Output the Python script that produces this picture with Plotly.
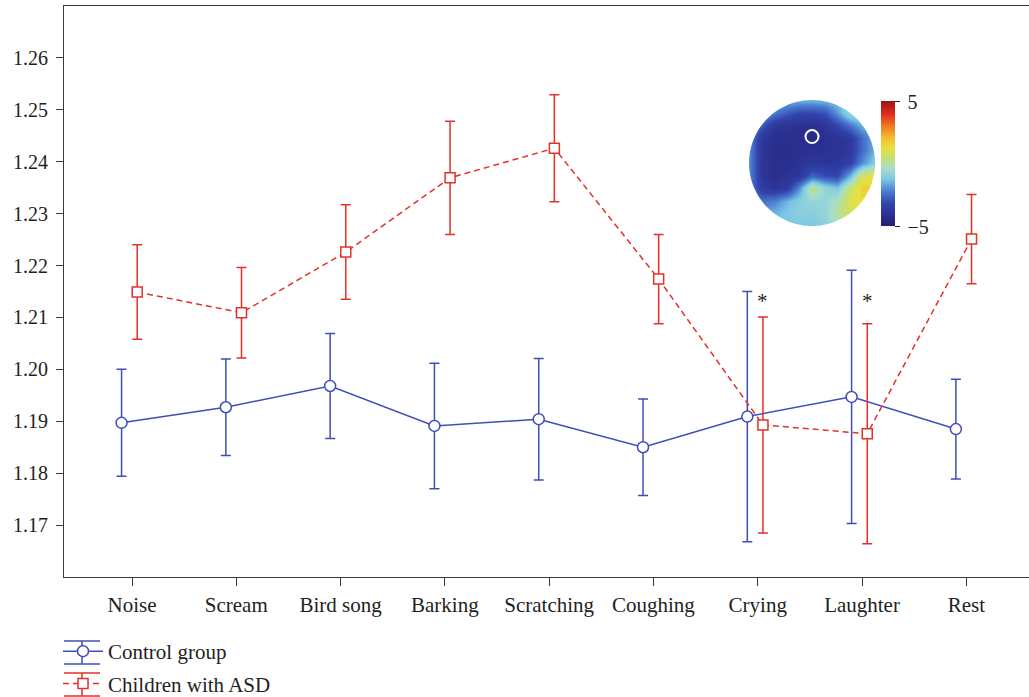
import numpy as np
import plotly.graph_objects as go

# ---------------- data ----------------
categories = ["Noise", "Scream", "Bird song", "Barking", "Scratching",
              "Coughing", "Crying", "Laughter", "Rest"]
control_mean = [1.1897, 1.1927, 1.1968, 1.1891, 1.1904, 1.1850, 1.1909, 1.1947, 1.1885]
control_err = [0.0103, 0.0093, 0.0101, 0.0121, 0.0117, 0.0093, 0.0241, 0.0244, 0.0096]
asd_mean = [1.2149, 1.2109, 1.2226, 1.2369, 1.2426, 1.2174, 1.1893, 1.1876, 1.2251]
asd_err = [0.0091, 0.0087, 0.0091, 0.0109, 0.0103, 0.0086, 0.0208, 0.0212, 0.0086]
significant = ["Crying", "Laughter"]
y_ticks = [1.17, 1.18, 1.19, 1.20, 1.21, 1.22, 1.23, 1.24, 1.25, 1.26]

# topographic map (t-values), rows bottom -> top, cols left -> right
topo_coords = [-1.0, -0.8, -0.6, -0.4, -0.2, 0.0, 0.2, 0.4, 0.6, 0.8, 1.0]
topo_values = [
    [-1.5, -1.5, -1.3, -1.2, -1.2, -1.2, -1.0, -0.5, 0.0, 0.0, -0.5],
    [-1.8, -1.8, -1.5, -1.2, -1.0, -1.0, -0.8, 0.0, 0.8, 0.8, 0.3],
    [-2.0, -2.4, -2.2, -1.5, -1.0, -0.8, -0.8, -0.3, 1.0, 1.3, 1.0],
    [-2.2, -3.6, -3.9, -3.6, -2.0, 0.3, -0.8, -1.2, 0.5, 1.6, 1.5],
    [-2.0, -3.9, -4.2, -4.0, -3.8, -2.6, -3.0, -3.2, -1.5, 0.8, 1.2],
    [-2.0, -3.9, -4.2, -4.2, -4.0, -3.8, -3.9, -3.8, -3.4, -2.0, -1.0],
    [-2.0, -3.9, -4.3, -4.3, -4.2, -4.1, -4.1, -4.0, -3.7, -2.5, -1.5],
    [-2.0, -3.8, -4.2, -4.2, -4.2, -4.4, -4.1, -4.0, -3.7, -2.5, -1.5],
    [-2.0, -2.8, -3.8, -4.0, -4.1, -4.1, -3.9, -3.2, -2.3, -1.5, -1.2],
    [-1.8, -1.8, -2.2, -2.8, -3.2, -3.2, -3.0, -1.9, -0.6, -0.5, -1.0],
    [-1.8, -1.8, -1.6, -1.5, -1.5, -1.5, -1.4, -1.2, -0.8, -0.8, -1.0],
]
electrode = [0.0, 0.42]
cbar_range = [-5, 5]
cbar_labels = ["\u22125", "5"]

# ---------------- style ----------------
FONT = "Liberation Serif, Times New Roman, serif"
BLUE = "#3f4fb5"
RED = "#e3312a"
TXT = "#231f20"
AX = "#3a3a3a"

# plot-area geometry in pixels (for paper-coordinate conversions)
L, R, T, B = 64, 1029, 6, 577
W, H = R - L, B - T


def px(xp):
    return (xp - L) / W


def py(yp):
    return (B - yp) / H


idx = np.arange(len(categories))
x_ctrl = idx - 0.10
x_asd = idx + 0.05

fig = go.Figure()

fig.add_trace(go.Scatter(
    x=x_ctrl, y=control_mean, mode="lines+markers", name="Control group",
    legendgroup="a",
    line=dict(color=BLUE, width=1.5),
    marker=dict(symbol="circle", size=11, color="white", line=dict(color=BLUE, width=1.5)),
    error_y=dict(type="data", array=control_err, visible=True, color=BLUE,
                 thickness=1.5, width=5),
))
fig.add_trace(go.Scatter(
    x=x_asd, y=asd_mean, mode="lines+markers", name="Children with ASD",
    legendgroup="b",
    line=dict(color=RED, width=1.5, dash="6px,4px"),
    marker=dict(symbol="square", size=10, color="white", line=dict(color=RED, width=1.5)),
    error_y=dict(type="data", array=asd_err, visible=True, color=RED,
                 thickness=1.5, width=5),
))

# inset topomap
colorscale = [
    [0.00, "#231f6b"], [0.08, "#2a2f8e"], [0.18, "#3244ad"], [0.28, "#4a7dd0"],
    [0.37, "#79c6e4"], [0.45, "#a3ddd0"], [0.55, "#c8e070"], [0.62, "#e6e040"],
    [0.70, "#f2c030"], [0.80, "#ee7a22"], [0.90, "#dc2b1e"], [1.00, "#9c1414"],
]
fig.add_trace(go.Heatmap(
    x=topo_coords, y=topo_coords, z=topo_values, zsmooth="best",
    zmin=cbar_range[0], zmax=cbar_range[1], colorscale=colorscale,
    xaxis="x2", yaxis="y2", showlegend=False, hoverinfo="skip",
    colorbar=dict(
        x=px(881), xanchor="left", xpad=0,
        y=py(164), yanchor="middle", ypad=0,
        len=125 / H, lenmode="fraction", thickness=14, thicknessmode="pixels",
        outlinewidth=0, ticks="outside", ticklen=5, tickcolor=TXT,
        tickvals=cbar_range, ticktext=["\u2009" + s for s in cbar_labels],
        tickfont=dict(family=FONT, size=20, color=TXT),
    ),
))
fig.add_trace(go.Scatter(
    x=[electrode[0]], y=[electrode[1]], mode="markers", xaxis="x2", yaxis="y2",
    marker=dict(symbol="circle-open", size=13, color="white", line=dict(width=2)),
    showlegend=False, hoverinfo="skip",
))

# circular mask
t = np.linspace(0, 2 * np.pi, 181)
circ = " L".join(f"{np.cos(a):.4f},{np.sin(a):.4f}" for a in t)
mask_path = f"M-1.3,-1.3 L1.3,-1.3 L1.3,1.3 L-1.3,1.3 Z M{circ} Z"
fig.add_shape(type="path", path=mask_path, xref="x2", yref="y2",
              fillcolor="white", fillrule="evenodd", line=dict(width=0), layer="above")

# error-bar caps on the legend symbols
for color, yc in [(BLUE, 652.5), (RED, 684.5)]:
    for dy in (-11.5, 11.5):
        fig.add_shape(type="line", xref="paper", yref="paper",
                      x0=px(64), x1=px(100), y0=py(yc + dy), y1=py(yc + dy),
                      line=dict(color=color, width=1.5))
    fig.add_shape(type="line", xref="paper", yref="paper",
                  x0=px(82), x1=px(82), y0=py(yc - 11.5), y1=py(yc + 11.5),
                  line=dict(color=color, width=1.5))

# significance markers
for c in significant:
    i = categories.index(c)
    fig.add_annotation(x=x_asd[i], y=1.2135, xref="x", yref="y", text="*",
                       showarrow=False, yshift=-2,
                       font=dict(family=FONT, size=21, color=TXT))

fig.update_layout(
    width=1029, height=697,
    margin=dict(l=L, r=1029 - R, t=T, b=697 - B, autoexpand=False),
    paper_bgcolor="white", plot_bgcolor="white",
    font=dict(family=FONT, size=21, color=TXT),
    showlegend=True,
    legend=dict(
        x=px(58), xanchor="left", y=py(631), yanchor="top",
        bgcolor="rgba(0,0,0,0)", traceorder="grouped", tracegroupgap=2,
        itemwidth=40, font=dict(family=FONT, size=21, color=TXT),
    ),
    xaxis=dict(
        range=[-0.652, 8.601], tickvals=list(idx), ticktext=categories,
        showline=True, linecolor=AX, linewidth=1.2, mirror=True,
        ticks="outside", ticklen=8, tickcolor=AX, tickwidth=1.2,
        ticklabelstandoff=1,
        showgrid=False, zeroline=False,
        tickfont=dict(family=FONT, size=21, color=TXT),
    ),
    yaxis=dict(
        range=[1.16, 1.27], tickvals=y_ticks, tickformat=".2f",
        showline=True, linecolor=AX, linewidth=1.2, mirror=False,
        ticks="outside", ticklen=7, tickcolor=AX, tickwidth=1.2,
        ticklabelstandoff=4,
        showgrid=False, zeroline=False,
        tickfont=dict(family=FONT, size=20, color=TXT),
    ),
    xaxis2=dict(domain=[px(749), px(875)], range=[-1, 1],
                visible=False, anchor="y2", fixedrange=True),
    yaxis2=dict(domain=[py(226), py(100)], range=[-1, 1],
                visible=False, anchor="x2", fixedrange=True),
)

fig.write_html("out.html", config={"displayModeBar": False},
               post_script="document.body.style.margin='0';")
